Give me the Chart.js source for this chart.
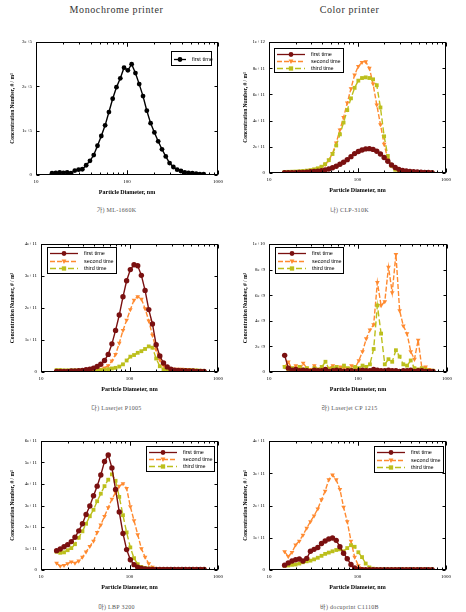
<!DOCTYPE html>
<html>
<head>
<meta charset="utf-8">
<script src="https://cdn.jsdelivr.net/npm/chart.js@4.4.1/dist/chart.umd.min.js"></script>
<style>
  body { margin: 0; background: #fff; width: 466px; height: 612px; position: relative; overflow: hidden; }
  canvas { position: absolute; }
  .head { position: absolute; width: 233px; text-align: center; font: 10px "Liberation Serif", serif; line-height: 12px; color: #333; letter-spacing: 0.6px; }
  .cap { position: absolute; width: 233px; text-align: center; font: 6px "Liberation Serif", "Noto Sans CJK KR", serif; line-height: 8px; color: #555; letter-spacing: 0.3px; }
</style>
</head>
<body>
<div class="head" style="left:0;top:4px">Monochrome printer</div>
<div class="head" style="left:233px;top:4px">Color printer</div>
<div class="cap" style="left:0;top:206px">가) ML-1660K</div>
<div class="cap" style="left:233px;top:206px">나) CLP-310K</div>
<div class="cap" style="left:0;top:404px">다) Laserjet P1005</div>
<div class="cap" style="left:233px;top:404px">라) Laserjet CP 1215</div>
<div class="cap" style="left:0;top:603px">마) LBP 3200</div>
<div class="cap" style="left:233px;top:603px">바) docuprint C1110B</div>
<script>
// particle diameter channels, nm
const diameters = [15.0, 16.5, 18.2, 20.0, 22.0, 24.2, 26.7, 29.4, 32.3, 35.6,
    39.2, 43.1, 47.4, 52.2, 57.5, 63.3, 69.6, 76.6, 84.4, 92.8,
    102.2, 112.5, 123.8, 136.2, 150.0, 165.1, 181.7, 200.0, 220.1, 242.3,
    266.7, 293.6, 323.1, 355.7, 391.5, 430.9, 474.3, 522.1, 574.7, 632.5,
    696.3];
const xTickValues = [10, 100, 1000];

// ML-1660K, x 1e5
const mlFirst = [0.04, 0.05, 0.06, 0.05, 0.06, 0.04, 0.10, 0.12, 0.13, 0.22,
    0.32, 0.45, 0.66, 0.88, 1.12, 1.42, 1.72, 1.98, 2.18, 2.42,
    2.36, 2.50, 2.30, 2.05, 1.78, 1.45, 1.17, 0.96, 0.76, 0.58,
    0.42, 0.27, 0.18, 0.12, 0.09, 0.06, 0.05, 0.04, 0.03, 0.02,
    0.02];

// CLP-310K, x 1e11
const clpFirst = [0.02, 0.02, 0.03, 0.03, 0.04, 0.05, 0.07, 0.09, 0.11, 0.14,
    0.18, 0.24, 0.31, 0.40, 0.52, 0.67, 0.82, 1.02, 1.25, 1.48,
    1.64, 1.76, 1.84, 1.86, 1.80, 1.66, 1.45, 1.18, 0.90, 0.62,
    0.42, 0.28, 0.20, 0.15, 0.12, 0.10, 0.08, 0.06, 0.05, 0.04,
    0.03];
const clpSecond = [0.05, 0.06, 0.07, 0.08, 0.09, 0.11, 0.14, 0.18, 0.24, 0.32,
    0.45, 0.65, 0.98, 1.50, 2.30, 3.30, 4.25, 5.35, 6.45, 7.50,
    8.15, 8.45, 8.50, 8.00, 6.80, 5.20, 3.70, 2.20, 1.05, 0.55,
    0.30, 0.20, 0.15, 0.12, 0.10, 0.08, 0.07, 0.06, 0.05, 0.04,
    0.04];
const clpThird = [0.08, 0.09, 0.10, 0.11, 0.13, 0.15, 0.18, 0.22, 0.28, 0.36,
    0.48, 0.68, 0.98, 1.45, 2.10, 2.95, 3.85, 4.80, 5.70, 6.50,
    7.05, 7.25, 7.30, 7.25, 7.15, 6.70, 5.00, 2.80, 1.30, 0.55,
    0.25, 0.12, 0.08, 0.06, 0.05, 0.05, 0.04, 0.04, 0.04, 0.03,
    0.03];

// Laserjet P1005, x 1e11
const p1005First = [0.02, 0.02, 0.02, 0.02, 0.03, 0.03, 0.04, 0.05, 0.07, 0.09,
    0.12, 0.17, 0.24, 0.36, 0.55, 0.88, 1.30, 1.78, 2.35, 2.85,
    3.20, 3.35, 3.32, 3.02, 2.55, 1.95, 1.50, 0.85, 0.50, 0.28,
    0.16, 0.09, 0.06, 0.05, 0.04, 0.04, 0.03, 0.03, 0.02, 0.02,
    0.02];
const p1005Second = [0.01, 0.01, 0.01, 0.01, 0.01, 0.01, 0.01, 0.02, 0.02, 0.03,
    0.04, 0.06, 0.09, 0.13, 0.20, 0.35, 0.55, 0.90, 1.30, 1.62,
    1.95, 2.25, 2.36, 2.28, 1.98, 1.60, 1.15, 0.70, 0.38, 0.20,
    0.12, 0.10, 0.09, 0.09, 0.09, 0.08, 0.08, 0.06, 0.04, 0.03,
    0.02];
const p1005Third = [0.06, 0.06, 0.05, 0.05, 0.05, 0.05, 0.05, 0.05, 0.05, 0.05,
    0.05, 0.05, 0.06, 0.07, 0.09, 0.11, 0.13, 0.17, 0.24, 0.36,
    0.48, 0.53, 0.60, 0.65, 0.72, 0.80, 0.76, 0.42, 0.18, 0.08,
    0.06, 0.05, 0.05, 0.05, 0.05, 0.05, 0.05, 0.05, 0.05, 0.04,
    0.03];

// Laserjet CP 1215, x 1e9
const cpFirst = [1.30, 0.30, 0.15, 0.20, 0.10, 0.15, 0.10, 0.05, 0.15, 0.10,
    0.10, 0.20, 0.05, 0.10, 0.15, 0.10, 0.05, 0.10, 0.10, 0.05,
    0.10, 0.15, 0.10, 0.10, 0.20, 0.15, 0.10, 0.10, 0.15, 0.10,
    0.10, 0.05, 0.10, 0.10, 0.15, 0.05, 0.10, 0.10, 0.05, 0.05,
    0.05];
const cpSecond = [0.4, 0.8, 0.2, 0.5, 0.1, 0.7, 0.3, 0.2, 0.5, 0.2,
    0.4, 0.1, 0.3, 0.5, 0.2, 0.4, 0.3, 0.2, 0.5, 0.3,
    0.9, 1.6, 2.6, 3.3, 3.7, 7.0, 5.2, 5.5, 8.2, 6.2,
    9.2, 4.8, 3.6, 3.0, 1.6, 1.0, 2.5, 0.3, 0.4, 0.2,
    0.1];
const cpThird = [0.4, 0.1, 0.3, 0.2, 0.4, 0.2, 0.3, 0.1, 0.3, 0.2,
    0.4, 0.8, 0.2, 0.3, 0.4, 0.2, 0.5, 0.3, 0.2, 0.4,
    0.3, 0.5, 0.4, 0.6, 1.8, 5.2, 3.0, 0.6, 1.0, 0.8,
    1.7, 1.2, 0.6, 0.5, 0.9, 0.3, 0.2, 0.3, 0.2, 0.1,
    0.1];

// LBP 3200, x 1e11
const lbpFirst = [0.90, 0.98, 1.08, 1.18, 1.32, 1.52, 1.82, 2.15, 2.58, 2.98,
    3.45, 3.90, 4.42, 5.05, 5.35, 4.75, 3.75, 2.70, 1.70, 0.95,
    0.48, 0.25, 0.13, 0.08, 0.05, 0.04, 0.03, 0.03, 0.03, 0.03,
    0.03, 0.03, 0.03, 0.03, 0.03, 0.03, 0.03, 0.03, 0.03, 0.02,
    0.02];
const lbpSecond = [0.32, 0.18, 0.22, 0.30, 0.38, 0.32, 0.42, 0.60, 0.85, 1.10,
    1.35, 1.75, 2.10, 2.50, 2.90, 3.30, 3.60, 3.90, 4.02, 3.80,
    2.95, 2.30, 1.65, 1.00, 0.60, 0.30, 0.13, 0.07, 0.05, 0.04,
    0.04, 0.04, 0.03, 0.03, 0.03, 0.03, 0.03, 0.03, 0.03, 0.03,
    0.03];
const lbpThird = [0.85, 0.80, 0.82, 0.92, 1.02, 1.20, 1.50, 1.80, 2.15, 2.50,
    2.80, 3.20, 3.55, 3.90, 4.20, 4.45, 4.15, 3.40, 2.55, 1.75,
    1.05, 0.55, 0.27, 0.14, 0.09, 0.07, 0.06, 0.05, 0.05, 0.05,
    0.05, 0.05, 0.05, 0.05, 0.05, 0.05, 0.05, 0.05, 0.05, 0.05,
    0.05];

// docuprint C1110B, x 1e11
const docFirst = [0.15, 0.22, 0.28, 0.32, 0.34, 0.28, 0.36, 0.58, 0.64, 0.70,
    0.82, 0.90, 0.96, 0.99, 0.92, 0.72, 0.52, 0.35, 0.17, 0.06,
    0.02, 0.01, 0.01, 0.01, 0.01, 0.01, 0.01, 0.01, 0.01, 0.01,
    0.01, 0.01, 0.01, 0.01, 0.01, 0.01, 0.01, 0.01, 0.01, 0.01,
    0.01];
const docSecond = [0.57, 0.42, 0.55, 0.78, 0.90, 1.08, 1.30, 1.50, 1.68, 1.90,
    2.18, 2.45, 2.80, 2.95, 2.80, 2.50, 1.95, 1.50, 0.90, 0.40,
    0.14, 0.05, 0.02, 0.01, 0.01, 0.01, 0.01, 0.01, 0.01, 0.01,
    0.01, 0.01, 0.01, 0.01, 0.01, 0.01, 0.01, 0.01, 0.01, 0.01,
    0.01];
const docThird = [0.13, 0.14, 0.16, 0.17, 0.20, 0.24, 0.27, 0.29, 0.33, 0.38,
    0.44, 0.50, 0.54, 0.58, 0.62, 0.64, 0.58, 0.68, 0.77, 0.72,
    0.55, 0.40, 0.20, 0.08, 0.04, 0.02, 0.02, 0.02, 0.02, 0.02,
    0.02, 0.02, 0.02, 0.02, 0.02, 0.02, 0.02, 0.02, 0.02, 0.02,
    0.02];

const seriesNames = ['first time', 'second time', 'third time'];

const estilos = [
    { color: '#7a1010', point: 'circle', rot: 0, dash: [], order: 0 },
    { color: '#ff8a30', point: 'triangle', rot: 180, dash: [5, 2], order: 2 },
    { color: '#bcbf1c', point: 'rect', rot: 0, dash: [6, 3], order: 1 }
];

// layout of the six plot boxes (page pixels)
const paineis = [
    { col: 0, l: 36, t: 42, r: 218, b: 175, unit: 1e5, yMax: 3e5, yStep: 1e5,
      series: [mlFirst], mono: true, legend: { x: 135, y: 9, w: 40, h: 14, line: 12 } },
    { col: 1, l: 269, t: 42, r: 446, b: 173, unit: 1e11, yMax: 1e12, yStep: 2e11,
      series: [clpFirst, clpSecond, clpThird], legend: { x: 5, y: 6, w: 69, h: 24, line: 28 } },
    { col: 0, l: 41, t: 244, r: 218, b: 372, unit: 1e11, yMax: 4e11, yStep: 1e11,
      series: [p1005First, p1005Second, p1005Third], legend: { x: 6, y: 3, w: 69, h: 26, line: 28 } },
    { col: 1, l: 269, t: 244, r: 447, b: 372, unit: 1e9, yMax: 1e10, yStep: 2e9,
      series: [cpFirst, cpSecond, cpThird], legend: { x: 6, y: 3, w: 68, h: 26, line: 28 } },
    { col: 0, l: 41, t: 441, r: 218, b: 570, unit: 1e11, yMax: 6e11, yStep: 1e11,
      series: [lbpFirst, lbpSecond, lbpThird], legend: { x: 105, y: 5, w: 68, h: 25, line: 28 } },
    { col: 1, l: 269, t: 441, r: 446, b: 570, unit: 1e11, yMax: 4e11, yStep: 1e11,
      series: [docFirst, docSecond, docThird], legend: { x: 105, y: 5, w: 69, h: 26, line: 28 } }
];

function desenharMarca(ctx, estilo, x, y, r, cor) {
    ctx.fillStyle = cor;
    ctx.beginPath();
    if (estilo === 'circle') {
        ctx.arc(x, y, r, 0, Math.PI * 2);
    } else if (estilo === 'triangle') {
        ctx.moveTo(x - r, y - r * 0.8);
        ctx.lineTo(x + r, y - r * 0.8);
        ctx.lineTo(x, y + r);
        ctx.closePath();
    } else {
        ctx.rect(x - r * 0.9, y - r * 0.9, r * 1.8, r * 1.8);
    }
    ctx.fill();
}

const moldura = {
    id: 'moldura',
    afterDraw(chart) {
        const { ctx, chartArea: a, scales } = chart;
        const L = Math.round(a.left) + 0.5, R = Math.round(a.right) - 0.5;
        const T = Math.round(a.top) + 0.5, B = Math.round(a.bottom) - 0.5;
        ctx.save();
        ctx.strokeStyle = '#000';
        ctx.lineWidth = 1;
        ctx.strokeRect(L, T, R - L, B - T);
        ctx.beginPath();
        scales.y.ticks.forEach(t => {
            const y = Math.round(scales.y.getPixelForValue(t.value)) + 0.5;
            ctx.moveTo(L, y); ctx.lineTo(L + 3, y);
            ctx.moveTo(R, y); ctx.lineTo(R - 3, y);
        });
        [10, 100].forEach(dec => {
            for (let k = 1; k <= 10; k++) {
                const x = Math.round(scales.x.getPixelForValue(k * dec)) + 0.5;
                const len = (k === 1 || k === 10) ? 4 : 2;
                ctx.moveTo(x, B); ctx.lineTo(x, B - len);
                ctx.moveTo(x, T); ctx.lineTo(x, T + len);
            }
        });
        ctx.stroke();
        ctx.restore();
    }
};

const legendaCaixa = {
    id: 'legendaCaixa',
    afterDraw(chart, args, opts) {
        const { ctx, chartArea: a } = chart;
        const x = Math.round(a.left + opts.x), y = Math.round(a.top + opts.y);
        const sets = chart.data.datasets;
        ctx.save();
        ctx.fillStyle = '#fff';
        ctx.fillRect(x, y, opts.w, opts.h);
        ctx.strokeStyle = '#000';
        ctx.lineWidth = 1;
        ctx.strokeRect(x + 0.5, y + 0.5, opts.w, opts.h);
        const rowH = (opts.h - 3) / sets.length;
        sets.forEach((ds, i) => {
            const cy = Math.round(y + 2 + rowH * (i + 0.5)) + 0.5;
            ctx.strokeStyle = ds.borderColor;
            ctx.lineWidth = 1.3;
            ctx.setLineDash(ds.borderDash || []);
            ctx.beginPath();
            ctx.moveTo(x + 3, cy);
            ctx.lineTo(x + 3 + opts.line, cy);
            ctx.stroke();
            ctx.setLineDash([]);
            desenharMarca(ctx, ds.pointStyle, x + 3 + opts.line / 2, cy, 2.4, ds.borderColor);
            ctx.fillStyle = '#000';
            ctx.font = '5.5px "Liberation Sans"';
            ctx.textBaseline = 'middle';
            ctx.fillText(ds.label, x + opts.line + 9, cy);
        });
        ctx.restore();
    }
};

const fonteTick = { family: 'Liberation Serif', size: 5 };
const fonteTitulo = { family: 'Liberation Serif', size: 6, weight: 'bold' };

function criarPainel(p) {
    const left = p.col * 233;
    const top = p.t - 10;
    const altura = p.b + 21 - top;
    const canvas = document.createElement('canvas');
    canvas.width = 233;
    canvas.height = altura;
    canvas.style.left = left + 'px';
    canvas.style.top = top + 'px';
    document.body.appendChild(canvas);

    const datasets = p.series.map((valores, i) => {
        const st = estilos[i];
        const cor = p.mono ? '#000' : st.color;
        return {
            label: seriesNames[i],
            data: diameters.map((d, j) => ({ x: d, y: valores[j] * p.unit })),
            borderColor: cor,
            backgroundColor: cor,
            borderWidth: 1.4,
            borderDash: st.dash,
            pointStyle: st.point,
            rotation: st.rot,
            pointRadius: p.mono ? 2.4 : 2.7,
            pointBorderWidth: 0,
            tension: 0,
            order: st.order
        };
    });

    new Chart(canvas, {
        type: 'line',
        data: { datasets },
        options: {
            responsive: false,
            animation: false,
            devicePixelRatio: 1,
            layout: { padding: { left: 9, top: 10, right: left + 233 - p.r, bottom: 0 } },
            plugins: {
                legend: { display: false },
                tooltip: { enabled: false },
                legendaCaixa: p.legend
            },
            scales: {
                x: {
                    type: 'logarithmic',
                    min: 10,
                    max: 1000,
                    afterBuildTicks: s => { s.ticks = xTickValues.map(v => ({ value: v })); },
                    ticks: { font: fonteTick, color: '#000', padding: 4, maxRotation: 0, autoSkip: false,
                             callback: v => String(v) },
                    grid: { display: false, drawTicks: false },
                    border: { display: false },
                    title: { display: true, text: 'Particle Diameter, nm', font: fonteTitulo, color: '#000', padding: 0 },
                    afterFit: s => { s.height = 21; s.paddingLeft = 0; s.paddingRight = 0; }
                },
                y: {
                    min: 0,
                    max: p.yMax,
                    ticks: { stepSize: p.yStep, font: fonteTick, color: '#000', padding: 4,
                             callback: v => v === 0 ? '0' : Number(v).toExponential(0) },
                    grid: { display: false, drawTicks: false },
                    border: { display: false },
                    title: { display: true, text: 'Concentration Number, # / m³', font: { family: 'Liberation Serif', size: 5.5, weight: 'bold' }, color: '#000', padding: 0 },
                    afterFit: s => { s.width = p.l - left - 9; s.paddingTop = 0; s.paddingBottom = 0; }
                }
            }
        },
        plugins: [moldura, legendaCaixa]
    });
}

paineis.forEach(criarPainel);
</script>
</body>
</html>
